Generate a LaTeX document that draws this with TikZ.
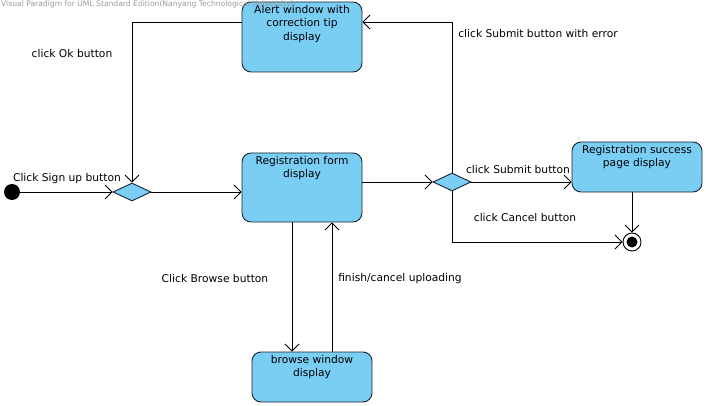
\documentclass[tikz,border=0pt]{standalone}
\usepackage{fontspec}
\setmainfont{DejaVu Sans}
\usetikzlibrary{arrows.meta,shapes.geometric}
\definecolor{stfill}{HTML}{7ACEF4}
\definecolor{stdraw}{HTML}{1A2433}
\newcommand\stxt[3]{\parbox[c][#2][t]{#1}{\centering\vspace{3pt}#3}}
\begin{document}
\begin{tikzpicture}[x=1pt,y=-1pt,
  font=\fontsize{10.7}{13.5}\selectfont,
  statebox/.style={draw=stdraw, fill=stfill, rounded corners=9pt, line width=0.9pt, inner sep=0pt},
  choice/.style={diamond, draw=stdraw, fill=stfill, line width=0.9pt, inner sep=0pt, minimum width=38pt, minimum height=18pt},
  flow/.style={draw=black, line width=0.8pt, -{Straight Barb[length=7pt,width=14pt,line width=0.8pt]}},
  lbl/.style={inner sep=0pt, font=\fontsize{10.7}{12}\selectfont}
]
\useasboundingbox (0,0) rectangle (706,406);

\node[statebox] (alert) at (302,37) {\stxt{120pt}{70pt}{Alert window with\\correction tip\\display}};
\node[statebox] (form) at (302,187.5) {\stxt{120pt}{69pt}{Registration form\\display}};
\node[statebox] (succ) at (637,167) {\stxt{130pt}{50pt}{Registration success\\page display}};
\node[statebox] (browse) at (312,377) {\stxt{120pt}{50pt}{browse window\\display}};

\node[anchor=north west, inner sep=0pt, text=black!40, font=\fontsize{7.6}{8}\selectfont] (wm) at (1,1) {Visual Paradigm for UML Standard Edition(Nanyang Technological University)};

\node[circle, fill=black, minimum size=16pt, inner sep=0pt] (init) at (12,192) {};
\node[choice] (d1) at (132,192) {};
\node[choice] (d2) at (452,182) {};
\node[circle, draw=black, fill=white, line width=0.9pt, minimum size=18pt, inner sep=0pt] (fin) at (632,242) {};
\node[circle, fill=black, minimum size=11pt, inner sep=0pt] (finin) at (fin.center) {};

\coordinate (c1) at (452,22);
\coordinate (c2) at (132,22);
\coordinate (c3) at (452,242);

\draw[flow] (init) -- (d1);
\draw[flow] (d1) -- (form.west |- d1);
\draw[flow] (form.east |- d2) -- (d2);
\draw[flow] (d2) -- (succ.west |- d2);
\draw[flow] (d2.north) -- (c1) -- (alert.east |- c1);
\draw[flow] (alert.west |- c2) -- (c2) -- (d1.north);
\draw[flow] (d2.south) -- (c3) -- (fin.west);
\draw[flow] (succ.south -| fin) -- (fin.north);
\draw[flow] (form.south -| 292,0) -- (browse.north -| 292,0);
\draw[flow] (browse.north -| 332,0) -- (form.south -| 332,0);

\node[lbl] (l1) at (67,179) {Click Sign up button};
\node[lbl] (l2) at (72,54) {click Ok button};
\node[lbl] (l3) at (538,34) {click Submit button with error};
\node[lbl] (l4) at (518,170) {click Submit button};
\node[lbl] (l5) at (525,218) {click Cancel button};
\node[lbl] (l6) at (215,279) {Click Browse button};
\node[lbl] (l7) at (400,279) {finish/cancel uploading};
\end{tikzpicture}
\end{document}
